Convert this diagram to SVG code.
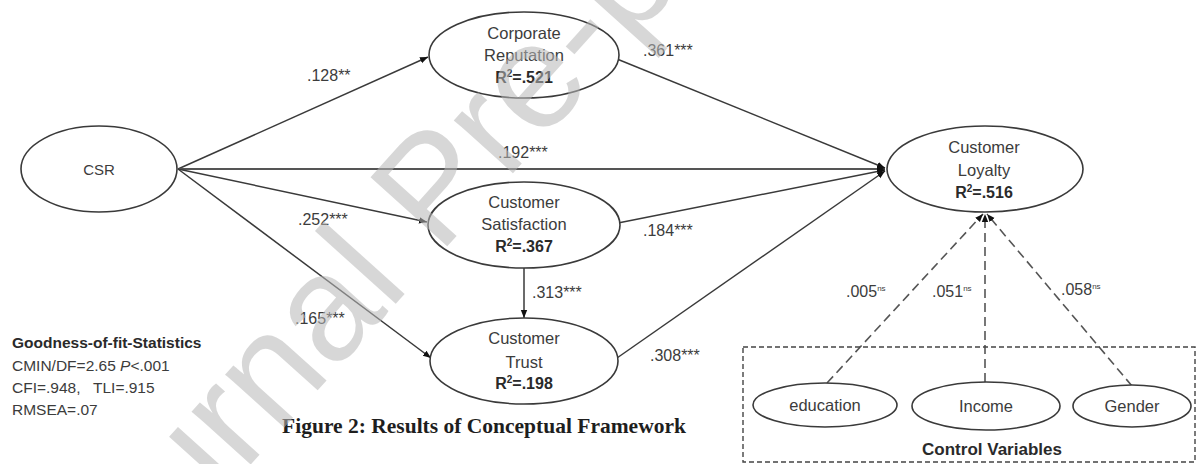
<svg xmlns="http://www.w3.org/2000/svg" width="1201" height="464" viewBox="0 0 1201 464">
<defs>
<style>
.node{fill:#fff;stroke:#3a3a3a;stroke-width:1.6}
.t{font-family:"Liberation Sans",Arial,sans-serif;font-size:16.5px;fill:#3c3c3c;text-anchor:middle}
.b{font-family:"Liberation Sans",Arial,sans-serif;font-size:16px;font-weight:bold;fill:#2a2a2a;text-anchor:middle}
.lab{font-family:"Liberation Sans",Arial,sans-serif;font-size:16px;fill:#3c3c3c}
.ns{font-size:8px}
.edge{stroke:#3a3a3a;stroke-width:1.5;fill:none;marker-end:url(#arr)}
.dash{stroke:#555;stroke-width:1.6;fill:none;stroke-dasharray:9,5;marker-end:url(#arr)}
.gof{font-family:"Liberation Sans",Arial,sans-serif;font-size:15.5px;fill:#3c3c3c}
</style>
<marker id="arr" viewBox="0 0 10 10" refX="10" refY="5" markerWidth="8" markerHeight="8" markerUnits="userSpaceOnUse" orient="auto">
<path d="M0,1 L10,5 L0,9 Z" fill="#111"/>
</marker>
</defs>
<rect width="1201" height="464" fill="#fff"/>

<g id="connectors">
<line class="edge" x1="178" y1="169" x2="428" y2="57"/>
<line class="edge" x1="178" y1="169" x2="885" y2="169" style="stroke-width:2.2;stroke:#555"/>
<line class="edge" x1="178" y1="169" x2="427" y2="222"/>
<line class="edge" x1="178" y1="169" x2="431" y2="358"/>
<line class="edge" x1="617" y1="59" x2="885" y2="168"/>
<line class="edge" x1="618" y1="223" x2="885" y2="170"/>
<line class="edge" x1="617" y1="358" x2="885" y2="171"/>
<line class="edge" x1="524" y1="268" x2="524" y2="318"/>
<line class="dash" x1="827" y1="383" x2="983" y2="214"/>
<line class="dash" x1="985" y1="382" x2="985" y2="214"/>
<line class="dash" x1="1132" y1="386" x2="987" y2="214"/>
</g>

<g id="edge-labels" class="lab">
<text x="307" y="81">.128**</text>
<text x="498" y="158">.192***</text>
<text x="643" y="56">.361***</text>
<text x="298" y="225">.252***</text>
<text x="643" y="236">.184***</text>
<text x="295" y="324">.165***</text>
<text x="532" y="298">.313***</text>
<text x="650" y="361">.308***</text>
<text x="846" y="297">.005<tspan class="ns" dy="-6">ns</tspan></text>
<text x="932" y="297">.051<tspan class="ns" dy="-6">ns</tspan></text>
<text x="1061" y="295">.058<tspan class="ns" dy="-6">ns</tspan></text>
</g>

<g id="csr">
<ellipse class="node" cx="99" cy="169" rx="78" ry="43"/>
<text class="t" x="99" y="175" style="font-size:15px">CSR</text>
</g>
<g id="corporate-reputation">
<ellipse class="node" cx="524" cy="55" rx="95" ry="43"/>
<text class="t" x="524" y="39">Corporate</text>
<text class="t" x="524" y="61">Reputation</text>
<text class="b" x="524" y="83">R<tspan dy="-6" font-size="10">2</tspan><tspan dy="6">=.521</tspan></text>
</g>
<g id="customer-satisfaction">
<ellipse class="node" cx="524" cy="225" rx="96" ry="43"/>
<text class="t" x="524" y="208">Customer</text>
<text class="t" x="524" y="230">Satisfaction</text>
<text class="b" x="524" y="252">R<tspan dy="-6" font-size="10">2</tspan><tspan dy="6">=.367</tspan></text>
</g>
<g id="customer-trust">
<ellipse class="node" cx="524" cy="361" rx="94" ry="43"/>
<text class="t" x="524" y="344">Customer</text>
<text class="t" x="524" y="368">Trust</text>
<text class="b" x="524" y="389">R<tspan dy="-6" font-size="10">2</tspan><tspan dy="6">=.198</tspan></text>
</g>
<g id="customer-loyalty">
<ellipse class="node" cx="985" cy="169" rx="98" ry="43"/>
<text class="t" x="984" y="153">Customer</text>
<text class="t" x="984" y="176">Loyalty</text>
<text class="b" x="984" y="198">R<tspan dy="-6" font-size="10">2</tspan><tspan dy="6">=.516</tspan></text>
</g>

<g id="control-variables">
<rect x="743" y="347" width="452" height="115" fill="none" stroke="#444" stroke-width="1.4" stroke-dasharray="5,3"/>
<text class="b" x="992" y="455" style="font-size:17px">Control Variables</text>
</g>
<g id="education">
<ellipse class="node" cx="825" cy="405" rx="72" ry="22"/>
<text class="t" x="825" y="411">education</text>
</g>
<g id="income">
<ellipse class="node" cx="986" cy="406" rx="74" ry="24"/>
<text class="t" x="986" y="412">Income</text>
</g>
<g id="gender">
<ellipse class="node" cx="1132" cy="406" rx="59" ry="21"/>
<text class="t" x="1132" y="412">Gender</text>
</g>

<g id="fit-statistics" class="gof">
<text x="12" y="348" font-weight="bold" fill="#2a2a2a">Goodness-of-fit-Statistics</text>
<text x="12" y="371">CMIN/DF=2.65 <tspan font-style="italic">P</tspan>&lt;.001</text>
<text x="12" y="393">CFI=.948,<tspan x="93">TLI=.915</tspan></text>
<text x="12" y="415">RMSEA=.07</text>
</g>

<text x="484" y="433" text-anchor="middle" font-family="'Liberation Serif','Times New Roman',serif" font-size="21.5" font-weight="bold" fill="#1e1e1e">Figure 2: Results of Conceptual Framework</text>

<text transform="translate(82,652) rotate(-48)" x="0" y="0" font-family="'Liberation Sans',Arial,sans-serif" font-size="150" fill="#b8b8b8" opacity="0.55">Journal Pre-proof</text>
</svg>
